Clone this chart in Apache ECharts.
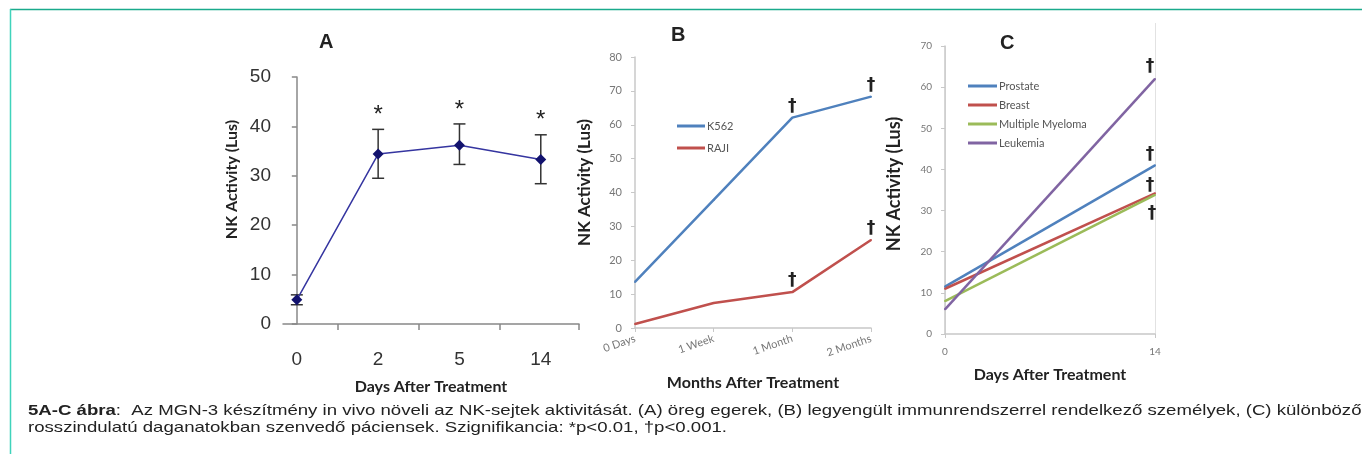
<!DOCTYPE html>
<html>
<head>
<meta charset="utf-8">
<script src="https://cdn.jsdelivr.net/npm/echarts@6/dist/echarts.min.js"></script>
<style>
  html, body { margin: 0; padding: 0; background: #fff; }
  #main { width: 1362px; height: 454px; }
</style>
</head>
<body>
<div id="main"></div>
<script>
// A: öreg egerek
const daysA = ['0', '2', '5', '14'];
const nkA = [4.9, 34.4, 36.2, 33.3];
const errLowA = [3.9, 29.5, 32.3, 28.4];
const errHighA = [5.9, 39.4, 40.5, 38.3];
const sigA = ['', '*', '*', '*'];

// B: legyengült immunrendszer
const monthsB = ['0 Days', '1 Week', '1 Month', '2 Months'];
const k562 = [13.6, 37.8, 62.1, 68.3];
const raji = [1.2, 7.4, 10.6, 26];
const sigK562 = ['', '', '†', '†'];
const sigRaji = ['', '', '†', '†'];

// C: daganatos páciensek
const daysC = [0, 14];
const prostate = [11.5, 41];
const breast = [11, 34.2];
const myeloma = [8, 33.8];
const leukemia = [6, 62];
const sigC = ['', '†'];

const arial = "'Liberation Sans', Arial, sans-serif";
const calibri = "Lato, 'Open Sans', sans-serif";
const gray = '#777';

const chart = echarts.init(document.getElementById('main'));

function daggerLabel(sig, pos, offset) {
  return {
    show: true,
    position: pos,
    distance: 2,
    offset: offset || [0, 0],
    formatter: p => sig[p.dataIndex],
    fontFamily: 'DejaVu Sans',
    fontWeight: 'bold',
    fontSize: 17,
    color: '#222'
  };
}

function yName(size, shift) {
  // shift: a név eltolása felfelé (px)
  return { fontFamily: calibri, fontWeight: 'bold', fontSize: size, color: '#222', padding: [0, 0, 0, shift * 2] };
}

const option = {
  animation: false,
  title: [
    { text: 'A', left: 319, top: 32, padding: 0, textStyle: { fontFamily: arial, fontWeight: 'bold', fontSize: 20, color: '#222' } },
    { text: 'B', left: 671, top: 25, padding: 0, textStyle: { fontFamily: arial, fontWeight: 'bold', fontSize: 20, color: '#222' } },
    { text: 'C', left: 1000, top: 33, padding: 0, textStyle: { fontFamily: arial, fontWeight: 'bold', fontSize: 20, color: '#222' } }
  ],
  legend: [
    {
      data: ['K562', 'RAJI'],
      orient: 'vertical', left: 677, top: 119, padding: 0,
      icon: 'rect', itemWidth: 28, itemHeight: 3, itemGap: 8,
      textStyle: { fontFamily: calibri, fontSize: 11, color: '#555', lineHeight: 14, padding: [0, 0, 0, -3] }
    },
    {
      data: ['Prostate', 'Breast', 'Multiple Myeloma', 'Leukemia'],
      orient: 'vertical', left: 968, top: 79, padding: 0,
      icon: 'rect', itemWidth: 29, itemHeight: 3, itemGap: 5,
      textStyle: { fontFamily: calibri, fontSize: 11, color: '#555', lineHeight: 14, padding: [0, 0, 0, -3] }
    }
  ],
  grid: [
    { left: 283, right: 1362 - 579, top: 77, bottom: 454 - 324 },
    { left: 635, right: 1362 - 871, top: 57, bottom: 454 - 328 },
    { left: 945, right: 1362 - 1155, top: 46, bottom: 454 - 334 }
  ],
  xAxis: [
    {
      gridIndex: 0, type: 'value', min: -0.17, max: 3.47,
      name: 'Days After Treatment', nameLocation: 'middle', nameGap: 55,
      nameTextStyle: { fontFamily: calibri, fontWeight: 'bold', fontSize: 16, color: '#222' },
      axisLine: { lineStyle: { color: '#888', width: 1.5 } },
      axisTick: { customValues: [0.5, 1.5, 2.5, 3.47], length: 6, lineStyle: { color: '#888', width: 1.5 } },
      axisLabel: { customValues: [0, 1, 2, 3], formatter: v => daysA[Math.round(v)], margin: 26, fontFamily: arial, fontSize: 19, color: '#333' },
      splitLine: { show: false }
    },
    {
      gridIndex: 1, type: 'category', data: monthsB, boundaryGap: false,
      name: 'Months After Treatment', nameLocation: 'middle', nameGap: 47,
      nameTextStyle: { fontFamily: calibri, fontWeight: 'bold', fontSize: 16, color: '#222' },
      axisLine: { lineStyle: { color: '#c8c8c8', width: 1.5 } },
      axisTick: { length: 4, lineStyle: { color: '#c8c8c8' } },
      axisLabel: { rotate: 19, margin: 10, fontFamily: calibri, fontSize: 11, color: gray }
    },
    {
      gridIndex: 2, type: 'value', min: 0, max: 14, interval: 14,
      name: 'Days After Treatment', nameLocation: 'middle', nameGap: 33,
      nameTextStyle: { fontFamily: calibri, fontWeight: 'bold', fontSize: 16, color: '#222' },
      axisLine: { lineStyle: { color: '#c8c8c8', width: 1.5 } },
      axisTick: { show: true, length: 4, lineStyle: { color: '#c8c8c8' } },
      axisLabel: { margin: 13, fontFamily: calibri, fontSize: 10, color: gray },
      splitLine: { show: true, lineStyle: { color: '#e2e2e2' } }
    }
  ],
  yAxis: [
    {
      gridIndex: 0, type: 'value', min: 0, max: 50, interval: 10,
      name: 'NK Activity (Lus)', nameLocation: 'middle', nameGap: 43,
      nameTextStyle: yName(16, 21),
      axisLine: { show: true, lineStyle: { color: '#888', width: 1.5 } },
      axisTick: { show: true, length: 5, lineStyle: { color: '#888', width: 1.5 } },
      axisLabel: { margin: 12, fontFamily: arial, fontSize: 19, color: '#333' },
      splitLine: { show: false }
    },
    {
      gridIndex: 1, type: 'value', min: 0, max: 80, interval: 10,
      name: 'NK Activity (Lus)', nameLocation: 'middle', nameGap: 42,
      nameTextStyle: yName(17, 10),
      axisLine: { show: true, lineStyle: { color: '#c8c8c8', width: 1.5 } },
      axisTick: { show: true, length: 4, lineStyle: { color: '#c8c8c8' } },
      axisLabel: { margin: 13, fontFamily: calibri, fontSize: 11, color: gray },
      splitLine: { show: false }
    },
    {
      gridIndex: 2, type: 'value', min: 0, max: 70, interval: 10,
      name: 'NK Activity (Lus)', nameLocation: 'middle', nameGap: 42,
      nameTextStyle: yName(18, 6),
      axisLine: { show: true, lineStyle: { color: '#c8c8c8', width: 1.5 } },
      axisTick: { show: true, length: 4, lineStyle: { color: '#c8c8c8' } },
      axisLabel: { margin: 13, fontFamily: calibri, fontSize: 10, color: gray },
      splitLine: { show: false }
    }
  ],
  series: [
    {
      type: 'custom', xAxisIndex: 0, yAxisIndex: 0, z: 3,
      data: daysA.map((d, i) => [i, errLowA[i], errHighA[i]]),
      renderItem(params, api) {
        const lo = api.coord([api.value(0), api.value(1)]);
        const hi = api.coord([api.value(0), api.value(2)]);
        const w = 6;
        const style = { stroke: '#333', lineWidth: 1.5 };
        return {
          type: 'group',
          children: [
            { type: 'line', shape: { x1: lo[0], y1: lo[1], x2: hi[0], y2: hi[1] }, style },
            { type: 'line', shape: { x1: lo[0] - w, y1: lo[1], x2: lo[0] + w, y2: lo[1] }, style },
            { type: 'line', shape: { x1: hi[0] - w, y1: hi[1], x2: hi[0] + w, y2: hi[1] }, style },
            {
              type: 'text',
              style: {
                text: sigA[params.dataIndex], x: hi[0], y: hi[1] - 2,
                align: 'center', verticalAlign: 'bottom',
                font: '24px "Liberation Sans"', fill: '#222'
              }
            }
          ]
        };
      }
    },
    {
      type: 'line', xAxisIndex: 0, yAxisIndex: 0, z: 4,
      data: daysA.map((d, i) => [i, nkA[i]]),
      symbol: 'diamond', symbolSize: 11,
      itemStyle: { color: '#12126e' },
      lineStyle: { color: '#3535a0', width: 1.5 }
    },
    {
      name: 'K562', type: 'line', xAxisIndex: 1, yAxisIndex: 1,
      data: k562, symbol: 'circle', symbolSize: 2,
      itemStyle: { color: '#4f81bd' }, lineStyle: { width: 2.5 },
      label: daggerLabel(sigK562, 'top')
    },
    {
      name: 'RAJI', type: 'line', xAxisIndex: 1, yAxisIndex: 1,
      data: raji, symbol: 'circle', symbolSize: 2,
      itemStyle: { color: '#c0504d' }, lineStyle: { width: 2.5 },
      label: daggerLabel(sigRaji, 'top')
    },
    {
      name: 'Prostate', type: 'line', xAxisIndex: 2, yAxisIndex: 2,
      data: daysC.map((d, i) => [d, prostate[i]]), symbol: 'circle', symbolSize: 2,
      itemStyle: { color: '#4f81bd' }, lineStyle: { width: 2.5 },
      label: daggerLabel(sigC, 'top', [-5, 1])
    },
    {
      name: 'Breast', type: 'line', xAxisIndex: 2, yAxisIndex: 2,
      data: daysC.map((d, i) => [d, breast[i]]), symbol: 'circle', symbolSize: 2,
      itemStyle: { color: '#c0504d' }, lineStyle: { width: 2.5 },
      label: daggerLabel(sigC, 'top', [-5, 4])
    },
    {
      name: 'Multiple Myeloma', type: 'line', xAxisIndex: 2, yAxisIndex: 2,
      data: daysC.map((d, i) => [d, myeloma[i]]), symbol: 'circle', symbolSize: 2,
      itemStyle: { color: '#9bbb59' }, lineStyle: { width: 2.5 },
      label: daggerLabel(sigC, 'bottom', [-3, 7])
    },
    {
      name: 'Leukemia', type: 'line', xAxisIndex: 2, yAxisIndex: 2,
      data: daysC.map((d, i) => [d, leukemia[i]]), symbol: 'circle', symbolSize: 2,
      itemStyle: { color: '#8064a2' }, lineStyle: { width: 2.5 },
      label: daggerLabel(sigC, 'top', [-5, -1])
    }
  ],
  graphic: [
    // keret
    { type: 'line', shape: { x1: 10, y1: 9.5, x2: 1362, y2: 9.5 }, style: { stroke: '#1aaa8c', lineWidth: 1.5 } },
    { type: 'line', shape: { x1: 10.5, y1: 9, x2: 10.5, y2: 454 }, style: { stroke: '#3fd3bb', lineWidth: 1.5 } },
    // a C panel jobb oldali rácsvonala felfelé is kilóg
    { type: 'line', shape: { x1: 1155.5, y1: 23, x2: 1155.5, y2: 46 }, style: { stroke: '#e2e2e2', lineWidth: 1 } },
    {
      type: 'text', x: 28, y: 402, scaleX: 1.24,
      style: {
        text: '{b|5A-C ábra}:  Az MGN-3 készítmény in vivo növeli az NK-sejtek aktivitását. (A) öreg egerek, (B) legyengült immunrendszerrel rendelkező személyek, (C) különböző\nrosszindulatú daganatokban szenvedő páciensek. Szignifikancia: *p<0.01, †p<0.001.',
        font: '15px "Liberation Sans"', fill: '#222', lineHeight: 17,
        rich: { b: { fontWeight: 'bold', fontSize: 15, fontFamily: 'Liberation Sans', fill: '#222', lineHeight: 17 } }
      }
    }
  ]
};

chart.setOption(option);
</script>
</body>
</html>
